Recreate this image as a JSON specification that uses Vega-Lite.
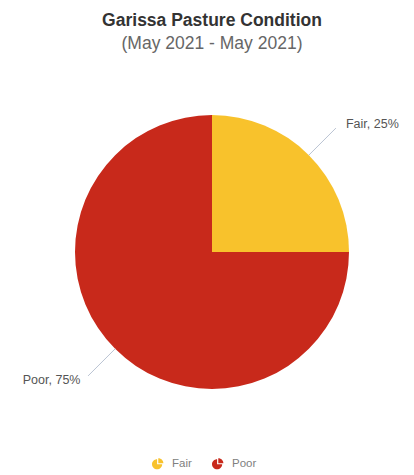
{
  "$schema": "https://vega.github.io/schema/vega-lite/v6.json",
  "width": 404,
  "height": 384,
  "autosize": {"type": "none"},
  "padding": {"left": 10, "right": 0, "top": 60, "bottom": 31},
  "background": "white",
  "title": {
    "text": "Garissa Pasture Condition",
    "subtitle": "(May 2021 - May 2021)",
    "anchor": "middle",
    "frame": "group",
    "font": "Liberation Sans",
    "fontSize": 17.5,
    "fontWeight": "bold",
    "color": "#333333",
    "subtitleFont": "Liberation Sans",
    "subtitleFontSize": 17.5,
    "subtitleColor": "#666666",
    "subtitlePadding": 5,
    "offset": 8
  },
  "data": {
    "values": [
      {"category": "Fair", "value": 25, "label": "Fair, 25%"},
      {"category": "Poor", "value": 75, "label": "Poor, 75%"}
    ]
  },
  "layer": [
    {
      "mark": {"type": "arc", "radius": 137},
      "encoding": {
        "theta": {"field": "value", "type": "quantitative", "stack": true},
        "color": {
          "field": "category",
          "type": "nominal",
          "scale": {"domain": ["Fair", "Poor"], "range": ["#F8C22C", "#C8291B"]},
          "legend": {
            "title": null,
            "orient": "none",
            "legendX": 142,
            "legendY": 398,
            "direction": "horizontal",
            "symbolType": "M-0.15,-0.85 A0.85,0.85 0 1,0 0.7,0 L-0.15,0 Z M0.05,-1 A0.85,0.85 0 0,1 0.9,-0.15 L0.05,-0.15 Z",
            "symbolSize": 144,
            "symbolStrokeWidth": 0,
            "labelFont": "Liberation Sans",
            "labelFontSize": 11.5,
            "labelColor": "#808080",
            "columnPadding": 20,
            "labelOffset": 8
          }
        },
        "order": {"field": "category", "type": "nominal", "sort": "ascending"}
      }
    },
    {
      "mark": {"type": "arc", "radius": 175, "radius2": 137, "padAngle": 3.1416, "filled": false, "stroke": "#bcc5d4", "strokeWidth": 1},
      "encoding": {
        "theta": {
          "field": "value",
          "type": "quantitative",
          "stack": true,
          "scale": {"domain": [0, 25, 100], "range": [-0.7854, 2.3562, 5.4978]}
        },
        "detail": {"field": "category", "type": "nominal"},
        "order": {"field": "category", "type": "nominal", "sort": "ascending"}
      }
    },
    {
      "mark": {"type": "text", "radius": 205, "thetaOffset": 0.113, "font": "Liberation Sans", "fontSize": 12.5, "fill": "#555555", "align": "center", "baseline": "middle"},
      "encoding": {
        "theta": {"field": "value", "type": "quantitative", "stack": true},
        "text": {"field": "label", "type": "nominal"},
        "detail": {"field": "category", "type": "nominal"},
        "order": {"field": "category", "type": "nominal", "sort": "ascending"}
      }
    }
  ],
  "resolve": {"scale": {"theta": "independent"}}
}
